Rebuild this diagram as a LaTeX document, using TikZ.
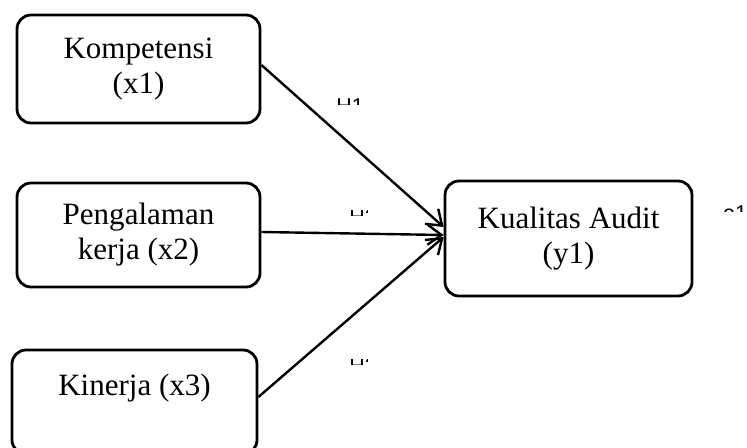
\documentclass[tikz,border=0pt]{standalone}
\usepackage{fontspec}
\setmainfont{Liberation Serif}
\newfontfamily\hfont{Liberation Sans}
\usetikzlibrary{arrows.meta}

\begin{document}
\begin{tikzpicture}[
    % Satuan: 1 piksel gambar = 0.5pt, sumbu y ke bawah
    x=0.5pt, y=-0.5pt,
    % Kotak variabel: sudut bulat, garis tebal
    kotak/.style={draw, rounded corners=7pt, line width=1.4pt, align=center,
        inner sep=0pt, font=\fontsize{15.5}{17.5}\selectfont},
    % Panah pengaruh
    panah/.style={line width=1.2pt,
        -{Straight Barb[length=7pt, width=10pt, line width=1.2pt]}},
    % Label hipotesis yang terpotong
    hlabel/.style={inner sep=0pt, anchor=north, font=\hfont\fontsize{10.7}{12}\selectfont}
]
    \useasboundingbox (0,0) rectangle (747,448);
    \clip (0,0) rectangle (747,448);

    % Variabel bebas
    \node[kotak, minimum width=121.5pt, minimum height=54pt] (komp) at (138.5,69) {Kompetensi\\(x1)};
    \node[kotak, minimum width=121.5pt, minimum height=52pt] (peng) at (138.5,235) {Pengalaman\\kerja (x2)};
    \node[kotak, minimum width=122.5pt, minimum height=52pt, text height=11pt, text depth=18pt] (kin) at (134.5,402) {Kinerja (x3)};

    % Variabel terikat
    \node[kotak, minimum width=123.5pt, minimum height=57.5pt] (kual) at (568.5,238.5) {Kualitas Audit\\(y1)};

    % Panah
    \draw[panah] ([yshift=2pt]komp.east) -- ([yshift=5.75pt]kual.west);
    \draw[panah] ([yshift=1.5pt]peng.east) -- ([yshift=1.75pt]kual.west);
    \draw[panah] ([yshift=2.5pt]kin.east) -- ([yshift=0.75pt]kual.west);

    % H1
    \begin{scope}
        \clip (325,98.5) rectangle (375,104.5);
        \node[hlabel] (h1) at (350,98.5) {H1};
    \end{scope}
    % H2
    \begin{scope}
        \clip (345,211) rectangle (367,215.5);
        \node[hlabel] (h2) at (363,209) {H2};
    \end{scope}
    % H3
    \begin{scope}
        \clip (345,359) rectangle (367,364.5);
        \node[hlabel] (h3) at (363,358) {H3};
    \end{scope}
    % e1
    \begin{scope}
        \clip (715,205) rectangle (747,212);
        \node[hlabel] (e1) at (735,205) {e1};
    \end{scope}

\end{tikzpicture}
\end{document}
